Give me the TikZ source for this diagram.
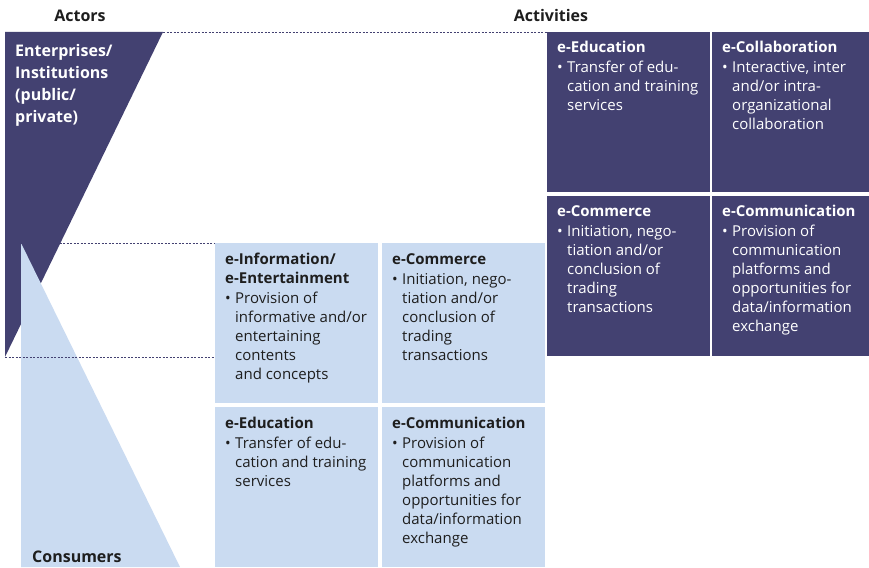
\documentclass[tikz,border=0pt]{standalone}
\usepackage{fontspec}
\setmainfont{Open Sans}
\usetikzlibrary{positioning}

\definecolor{actdark}{RGB}{67,65,113}
\definecolor{actlight}{RGB}{202,219,241}
\definecolor{acttxt}{RGB}{30,30,30}

\newcommand{\actbullet}[1]{\makebox[10pt][l]{\textbullet}\parbox[t]{150pt}{#1}}

\begin{document}
\begin{tikzpicture}[x=1pt, y=-1pt,
        darkbox/.style={fill=actdark, anchor=north west, inner sep=0pt, minimum width=163pt, minimum height=160pt},
        lightbox/.style={darkbox, fill=actlight},
        boxtext/.style={anchor=north west, inner sep=0pt, align=left, font=\fontsize{15}{19}\selectfont},
        darktext/.style={boxtext, text=white},
        lighttext/.style={boxtext, text=acttxt},
        heading/.style={inner sep=0pt, text=acttxt, font=\fontsize{16}{22}\selectfont\bfseries},
        guide/.style={actdark, line width=0.8pt, dash pattern=on 2pt off 1.5pt}]
    \useasboundingbox (0,0) rectangle (869,567);

    \node[heading] (actors) at (80,16) {Actors};
    \node[heading] (activities) at (551,16) {Activities};

    \coordinate (entTop) at (163,32);
    \coordinate (entBot) at (5,357);
    \coordinate (conTop) at (21,243);

    \fill[actdark] (5,32) -- (entTop) -- (entBot) -- cycle;
    \fill[actlight] (conTop) -- (180,567) -- (21,567) -- cycle;

    \node[heading, anchor=north west, text=white, align=left] (ent) at (15,44)
        {Enterprises/\\Institutions\\(public/\\private)};
    \node[heading, anchor=base west] (con) at (32,562) {Consumers};

    % enterprises
    \node[darkbox] (eduA) at (547,32) {};
    \node[darkbox, minimum width=157pt] (colA) at (712,32) {};
    \node[darkbox] (comA) at (547,196) {};
    \node[darkbox, minimum width=157pt] (cmuA) at (712,196) {};

    % consumers
    \node[lightbox] (infB) at (215,243) {};
    \node[lightbox] (comB) at (382,243) {};
    \node[lightbox] (eduB) at (215,407) {};
    \node[lightbox] (cmuB) at (382,407) {};

    \draw[guide] (entTop) -- (eduA.north west);
    \draw[guide] (conTop) -- (infB.north west);
    \draw[guide] (entBot) -- (entBot -| infB.west);

    \node[darktext, below right=9pt and 10pt of eduA.north west] (eduAt)
        {\textbf{e-Education}\\[1pt]\actbullet{Transfer of edu-\\cation and training\\services}};
    \node[darktext, below right=9pt and 10pt of colA.north west] (colAt)
        {\textbf{e-Collaboration}\\[1pt]\actbullet{Interactive, inter\\and/or intra-\\organizational\\collaboration}};
    \node[darktext, below right=9pt and 10pt of comA.north west] (comAt)
        {\textbf{e-Commerce}\\[1pt]\actbullet{Initiation, nego-\\tiation and/or\\conclusion of\\trading\\transactions}};
    \node[darktext, below right=9pt and 10pt of cmuA.north west] (cmuAt)
        {\textbf{e-Communication}\\[1pt]\actbullet{Provision of\\communication\\platforms and\\opportunities for\\data/information\\exchange}};

    \node[lighttext, below right=10pt and 10pt of infB.north west] (infBt)
        {\textbf{e-Information/}\\\textbf{e-Entertainment}\\[1pt]\actbullet{Provision of\\informative and/or\\entertaining\\contents\\and concepts}};
    \node[lighttext, below right=10pt and 10pt of comB.north west] (comBt)
        {\textbf{e-Commerce}\\[1pt]\actbullet{Initiation, nego-\\tiation and/or\\conclusion of\\trading\\transactions}};
    \node[lighttext, below right=10pt and 10pt of eduB.north west] (eduBt)
        {\textbf{e-Education}\\[1pt]\actbullet{Transfer of edu-\\cation and training\\services}};
    \node[lighttext, below right=10pt and 10pt of cmuB.north west] (cmuBt)
        {\textbf{e-Communication}\\[1pt]\actbullet{Provision of\\communication\\platforms and\\opportunities for\\data/information\\exchange}};
\end{tikzpicture}
\end{document}
